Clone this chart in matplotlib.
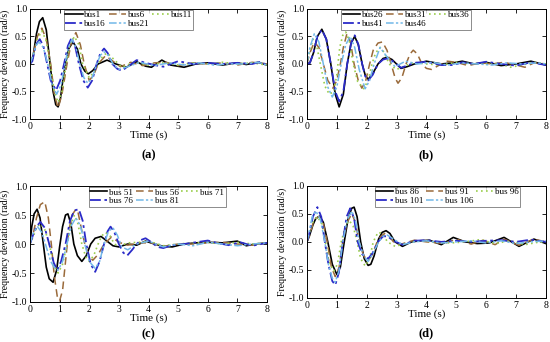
import numpy as np
import matplotlib.pyplot as plt

plt.rcParams['font.family'] = ['Liberation Serif', 'DejaVu Serif']
plt.rcParams['axes.unicode_minus'] = False

# ---------------- panel (a) ----------------
t_a1 = [0, 0.1, 0.22, 0.32, 0.43, 0.55, 0.68, 0.78, 0.87, 0.95, 1.03, 1.12, 1.2, 1.3, 1.45, 1.6, 1.72, 1.85, 1.97, 2.12,
        2.3, 2.6, 2.9, 3.25, 3.6, 3.9, 4.1, 4.45, 4.75, 5.2, 5.6, 6.0, 6.5, 7.0, 7.3, 7.7, 8.0]
bus1 = [0, 0.12, 0.55, 0.77, 0.84, 0.62, 0.0, -0.5, -0.74, -0.78, -0.62, -0.25, 0.0, 0.27, 0.4, 0.27, 0.0, -0.13, -0.18, -0.12,
        0.0, 0.07, 0.0, -0.06, 0.04, -0.04, -0.06, 0.07, -0.02, -0.06, 0.0, 0.02, -0.02, 0.02, -0.01, 0.03, -0.02]
t_a2 = [0, 0.1, 0.25, 0.4, 0.55, 0.7, 0.82, 0.95, 1.08, 1.25, 1.4, 1.55, 1.7, 1.83, 2.0, 2.15, 2.3, 2.55, 2.8, 3.05,
        3.4, 3.8, 4.2, 4.6, 5.0, 5.5, 6.0, 6.5, 7.0, 7.5, 8.0]
bus6 = [0, 0.15, 0.5, 0.65, 0.45, 0.0, -0.55, -0.8, -0.55, 0.0, 0.4, 0.57, 0.35, 0.0, -0.3, -0.2, 0.0, 0.15, 0.05, -0.05,
        0.03, -0.03, 0.02, 0.03, -0.03, 0.02, 0.0, 0.02, -0.02, 0.03, 0.0]
t_a3 = [0, 0.1, 0.25, 0.4, 0.55, 0.68, 0.82, 0.95, 1.08, 1.22, 1.35, 1.5, 1.65, 1.78, 2.0, 2.15, 2.3, 2.45, 2.6, 2.8,
        3.1, 3.5, 4.0, 4.5, 5.0, 5.5, 6.0, 6.5, 7.0, 7.5, 8.0]
bus11 = [0, 0.15, 0.45, 0.6, 0.42, 0.0, -0.5, -0.7, -0.5, 0.0, 0.35, 0.5, 0.35, 0.0, -0.25, -0.15, 0.0, 0.14, 0.2, 0.1,
         -0.06, 0.03, -0.02, 0.02, -0.02, 0.02, 0.0, 0.03, 0.0, 0.02, -0.02]
t_a4 = [0, 0.08, 0.2, 0.33, 0.45, 0.58, 0.7, 0.88, 1.02, 1.15, 1.28, 1.4, 1.52, 1.65, 1.8, 1.95, 2.1, 2.25, 2.38, 2.5,
        2.62, 2.78, 2.95, 3.1, 3.3, 3.6, 3.9, 4.2, 4.5, 5.0, 5.5, 6.0, 6.5, 7.0, 7.5, 7.8, 8.0]
bus16 = [0, 0.05, 0.35, 0.45, 0.33, 0.0, -0.3, -0.48, -0.3, 0.0, 0.33, 0.47, 0.33, 0.0, -0.3, -0.43, -0.3, 0.0, 0.2, 0.28,
         0.2, 0.0, -0.09, -0.12, -0.05, 0.07, 0.02, -0.02, -0.05, 0.05, 0.0, 0.02, 0.0, 0.02, 0.0, 0.04, -0.03]
t_a5 = [0, 0.1, 0.2, 0.3, 0.45, 0.6, 0.75, 0.9, 1.05, 1.18, 1.3, 1.42, 1.55, 1.68, 1.82, 1.95, 2.1, 2.25, 2.38, 2.5,
        2.65, 2.8, 3.0, 3.3, 3.7, 4.2, 4.7, 5.2, 5.7, 6.2, 6.7, 7.2, 7.7, 8.0]
bus21 = [0, 0.15, 0.33, 0.4, 0.3, 0.0, -0.38, -0.55, -0.38, 0.0, 0.3, 0.45, 0.3, 0.0, -0.25, -0.35, -0.25, 0.0, 0.16, 0.22,
         0.15, 0.0, -0.1, -0.05, 0.03, -0.03, 0.02, -0.02, 0.02, -0.02, 0.0, 0.0, 0.03, -0.02]

# ---------------- panel (b) ----------------
t_b1 = [0, 0.1, 0.22, 0.35, 0.5, 0.65, 0.8, 0.95, 1.08, 1.22, 1.35, 1.48, 1.6, 1.72, 1.85, 1.95, 2.05, 2.2, 2.38, 2.55,
        2.7, 2.85, 3.0, 3.15, 3.35, 3.6, 4.0, 4.5, 4.9, 5.2, 5.6, 6.0, 6.5, 7.0, 7.5, 8.0]
bus26 = [0, 0.02, 0.2, 0.5, 0.63, 0.45, 0.0, -0.55, -0.78, -0.55, 0.0, 0.38, 0.5, 0.35, 0.0, -0.2, -0.28, -0.18, 0.0, 0.1,
         0.12, 0.08, 0.0, -0.08, -0.05, 0.0, 0.05, 0.0, 0.02, 0.05, 0.0, 0.03, -0.03, 0.0, 0.05, -0.02]
bus41 = [0, 0.02, 0.2, 0.5, 0.62, 0.45, 0.0, -0.5, -0.68, -0.5, 0.0, 0.38, 0.52, 0.36, 0.0, -0.22, -0.3, -0.2, 0.0, 0.08,
         0.1, 0.06, 0.0, -0.07, -0.03, 0.02, 0.04, -0.02, -0.02, 0.03, 0.0, 0.04, 0.0, -0.03, 0.03, -0.02]
t_b2 = [0, 0.1, 0.25, 0.4, 0.55, 0.7, 0.87, 1.0, 1.12, 1.22, 1.34, 1.46, 1.58, 1.72, 1.84, 1.97, 2.1, 2.22, 2.38, 2.53,
        2.68, 2.82, 2.95, 3.05, 3.18, 3.32, 3.45, 3.56, 3.7, 3.85, 4.0, 4.17, 4.4, 4.7, 5.0, 5.4, 5.8, 6.2, 6.6, 7.0,
        7.3, 7.6, 8.0]
bus31 = [0, 0.2, 0.4, 0.3, 0.0, -0.3, -0.44, -0.3, 0.0, 0.3, 0.55, 0.4, 0.0, -0.3, -0.44, -0.3, 0.0, 0.25, 0.38, 0.4,
         0.25, 0.0, -0.25, -0.35, -0.25, 0.0, 0.18, 0.25, 0.18, 0.0, -0.08, -0.1, -0.03, 0.05, 0.03, -0.03, 0.02, 0.0,
         0.03, -0.02, -0.06, 0.02, 0.0]
t_b3 = [0, 0.08, 0.2, 0.32, 0.45, 0.6, 0.75, 0.9, 1.0, 1.1, 1.2, 1.3, 1.42, 1.55, 1.7, 1.9, 2.05, 2.18, 2.3, 2.45,
        2.6, 2.75, 3.0, 3.3, 3.6, 4.0, 4.5, 5.0, 5.5, 6.0, 6.5, 6.8, 7.2, 7.6, 8.0]
bus36 = [0, 0.2, 0.45, 0.35, 0.0, -0.4, -0.55, -0.5, -0.2, 0.3, 0.52, 0.58, 0.42, 0.0, -0.32, -0.45, -0.3, 0.0, 0.2, 0.3,
         0.2, 0.0, -0.1, -0.03, 0.03, 0.0, -0.02, 0.03, 0.0, 0.02, 0.0, -0.06, -0.02, 0.03, 0.0]
t_b5 = [0, 0.1, 0.25, 0.4, 0.55, 0.7, 0.85, 1.0, 1.15, 1.3, 1.45, 1.6, 1.75, 1.95, 2.1, 2.25, 2.45, 2.65, 2.95, 3.3,
        3.7, 4.2, 4.7, 5.2, 5.7, 6.2, 6.7, 7.2, 7.7, 8.0]
bus46 = [0, 0.3, 0.55, 0.4, 0.0, -0.42, -0.6, -0.42, 0.0, 0.35, 0.5, 0.3, -0.1, -0.45, -0.3, 0.0, 0.3, 0.15, -0.05, 0.05,
         0.0, 0.03, -0.02, 0.02, 0.0, -0.02, 0.02, 0.0, 0.02, 0.0]

# ---------------- panel (c) ----------------
t_c1 = [0, 0.06, 0.14, 0.24, 0.34, 0.45, 0.55, 0.65, 0.78, 0.9, 1.0, 1.1, 1.2, 1.28, 1.38, 1.48, 1.6, 1.75, 1.9, 2.05,
        2.2, 2.4, 2.6, 2.8, 3.0, 3.3, 3.6, 3.9, 4.2, 4.5, 4.8, 5.2, 5.6, 6.0, 6.5, 7.0, 7.3, 7.6, 8.0]
bus51 = [0, 0.3, 0.52, 0.6, 0.45, 0.0, -0.4, -0.6, -0.66, -0.45, -0.05, 0.3, 0.5, 0.52, 0.35, 0.0, -0.2, -0.3, -0.2, 0.0,
         0.1, 0.13, 0.05, -0.03, -0.05, 0.0, -0.02, 0.05, 0.0, -0.04, -0.05, 0.0, 0.02, 0.03, 0.02, 0.05, -0.03, 0.0, 0.02]
t_c2 = [0, 0.1, 0.22, 0.35, 0.5, 0.62, 0.72, 0.82, 0.92, 1.0, 1.1, 1.2, 1.3, 1.42, 1.55, 1.62, 1.72, 1.85, 2.0, 2.12,
        2.3, 2.5, 2.75, 3.0, 3.3, 3.7, 4.1, 4.5, 5.0, 5.5, 6.0, 6.5, 7.0, 7.5, 8.0]
bus56 = [0, 0.15, 0.45, 0.68, 0.73, 0.45, 0.0, -0.55, -0.9, -0.98, -0.8, -0.3, 0.2, 0.5, 0.6, 0.55, 0.3, 0.0, -0.22, -0.28,
         -0.18, 0.0, 0.12, 0.03, -0.02, 0.02, 0.02, -0.04, 0.0, 0.0, 0.02, 0.03, 0.0, -0.02, 0.02]
t_c3 = [0, 0.1, 0.22, 0.35, 0.5, 0.65, 0.8, 0.95, 1.1, 1.25, 1.38, 1.5, 1.62, 1.75, 1.88, 2.0, 2.15, 2.3, 2.42, 2.55,
        2.7, 2.85, 3.0, 3.3, 3.7, 4.0, 4.5, 5.0, 5.5, 6.0, 6.5, 7.0, 7.5, 8.0]
bus71 = [0, 0.12, 0.28, 0.35, 0.25, 0.0, -0.35, -0.5, -0.35, 0.0, 0.35, 0.5, 0.35, 0.0, -0.22, -0.3, -0.2, 0.0, 0.14, 0.2,
         0.14, 0.0, -0.04, 0.02, 0.03, 0.05, -0.03, 0.0, 0.02, 0.03, 0.0, 0.03, 0.0, 0.02]
t_c4 = [0, 0.1, 0.22, 0.35, 0.5, 0.65, 0.8, 0.92, 1.05, 1.2, 1.35, 1.5, 1.65, 1.78, 1.9, 2.05, 2.2, 2.35, 2.5, 2.62,
        2.72, 2.85, 3.0, 3.15, 3.28, 3.45, 3.6, 3.75, 3.9, 4.1, 4.3, 4.5, 4.8, 5.2, 5.6, 6.0, 6.3, 6.7, 7.1, 7.5, 8.0]
bus76 = [0, 0.15, 0.3, 0.38, 0.28, 0.0, -0.32, -0.45, -0.3, 0.0, 0.4, 0.58, 0.6, 0.4, 0.0, -0.35, -0.48, -0.3, 0.0, 0.22,
         0.3, 0.2, 0.0, -0.15, -0.2, -0.1, 0.0, 0.07, 0.1, 0.03, -0.05, -0.07, -0.02, 0.0, 0.03, 0.06, 0.02, -0.02, 0.03,
         -0.03, 0.02]
t_c5 = [0, 0.1, 0.25, 0.4, 0.55, 0.7, 0.85, 0.95, 1.1, 1.25, 1.4, 1.55, 1.7, 1.85, 2.0, 2.2, 2.35, 2.5, 2.65, 2.8,
        2.95, 3.1, 3.3, 3.6, 4.0, 4.5, 5.0, 5.5, 6.0, 6.5, 7.0, 7.5, 8.0]
bus81 = [0, 0.18, 0.3, 0.2, -0.05, -0.3, -0.43, -0.45, -0.3, 0.0, 0.32, 0.45, 0.32, 0.0, -0.3, -0.42, -0.3, 0.0, 0.22, 0.28,
         0.15, -0.05, -0.1, 0.0, 0.05, -0.05, 0.0, -0.03, 0.03, 0.0, -0.03, 0.0, 0.02]

# ---------------- panel (d) ----------------
t_d1 = [0, 0.08, 0.2, 0.3, 0.43, 0.55, 0.7, 0.85, 1.0, 1.12, 1.25, 1.38, 1.5, 1.58, 1.68, 1.8, 1.92, 2.05, 2.14, 2.25,
        2.4, 2.52, 2.65, 2.78, 2.95, 3.2, 3.5, 3.8, 4.1, 4.5, 4.9, 5.3, 5.7, 6.1, 6.6, 7.1, 7.6, 8.0]
bus86 = [0, 0.1, 0.3, 0.42, 0.46, 0.35, 0.0, -0.4, -0.58, -0.45, 0.0, 0.42, 0.6, 0.62, 0.45, 0.0, -0.3, -0.42, -0.4, -0.25,
         0.05, 0.17, 0.2, 0.15, 0.0, -0.08, 0.0, 0.02, 0.03, -0.05, 0.08, 0.0, -0.03, -0.02, 0.08, -0.08, 0.05, -0.03]
t_d2 = [0, 0.08, 0.2, 0.3, 0.4, 0.55, 0.68, 0.82, 0.95, 1.08, 1.2, 1.35, 1.5, 1.62, 1.75, 1.9, 2.05, 2.2, 2.35, 2.48,
        2.6, 2.75, 2.9, 3.1, 3.4, 3.6, 4.0, 4.6, 5.0, 5.5, 5.9, 6.3, 6.6, 7.1, 7.6, 8.0]
bus91 = [0, 0.1, 0.32, 0.42, 0.45, 0.33, 0.0, -0.45, -0.62, -0.45, 0.0, 0.35, 0.5, 0.36, 0.0, -0.25, -0.33, -0.22, 0.0, 0.1,
         0.15, 0.1, 0.0, -0.05, 0.0, 0.03, 0.0, -0.03, 0.05, -0.04, 0.03, -0.05, 0.05, -0.06, 0.05, 0.0]
t_d3 = [0, 0.08, 0.2, 0.35, 0.5, 0.62, 0.75, 0.9, 1.02, 1.15, 1.3, 1.42, 1.55, 1.68, 1.8, 1.95, 2.1, 2.22, 2.38, 2.52,
        2.7, 2.95, 3.3, 3.8, 4.3, 4.8, 5.3, 5.8, 6.3, 6.8, 7.3, 7.8, 8.0]
bus96 = [0, 0.15, 0.35, 0.45, 0.32, 0.0, -0.38, -0.52, -0.4, 0.0, 0.3, 0.38, 0.28, 0.0, -0.3, -0.43, -0.3, 0.0, 0.17, 0.15,
         0.0, -0.08, -0.03, 0.02, 0.0, -0.02, 0.0, 0.04, -0.03, 0.02, -0.05, 0.0, -0.02]
t_d4 = [0, 0.08, 0.2, 0.35, 0.48, 0.6, 0.72, 0.85, 0.95, 1.07, 1.2, 1.33, 1.45, 1.58, 1.7, 1.85, 2.05, 2.2, 2.38, 2.55,
        2.7, 2.9, 3.2, 3.6, 4.0, 4.5, 5.0, 5.5, 6.0, 6.5, 7.0, 7.5, 8.0]
bus101 = [0, 0.15, 0.45, 0.62, 0.45, 0.0, -0.4, -0.7, -0.77, -0.55, 0.0, 0.45, 0.6, 0.42, 0.0, -0.22, -0.3, -0.2, 0.0, 0.1,
          0.1, 0.02, -0.05, 0.02, 0.03, 0.0, 0.02, 0.0, 0.02, 0.03, 0.0, 0.04, 0.0]
t_d5 = [0, 0.08, 0.18, 0.3, 0.45, 0.6, 0.72, 0.85, 0.95, 1.08, 1.2, 1.35, 1.5, 1.62, 1.75, 1.9, 2.05, 2.2, 2.4, 2.55,
        2.7, 2.9, 3.2, 3.6, 4.0, 4.5, 5.0, 5.5, 6.0, 6.5, 7.0, 7.5, 8.0]
bus106 = [0, 0.2, 0.45, 0.55, 0.4, 0.0, -0.4, -0.65, -0.72, -0.5, 0.0, 0.4, 0.55, 0.4, 0.0, -0.25, -0.35, -0.22, 0.0, 0.1,
          0.12, 0.05, -0.05, 0.0, 0.02, -0.02, 0.0, 0.02, -0.02, 0.02, -0.03, 0.0, 0.02]

# line styles shared by the five curves of each panel
STYLES = [
    dict(color='black', lw=1.2, ls='-'),
    dict(color='#9a6a3a', lw=1.1, ls=(0, (5, 3))),
    dict(color='#9acd4c', lw=1.2, ls=(0, (1, 2))),
    dict(color='#2b2bc8', lw=1.3, ls=(0, (6, 2, 1.5, 2))),
    dict(color='#72b8e8', lw=1.1, ls=(0, (5, 1.5, 1.5, 1.5, 1.5, 1.5))),
]


def panel(ax, series, labels, leg_x, tag, tag_y):
    lines = []
    for (t, v), lab, st in zip(series, labels, STYLES):
        ln, = ax.plot(t, v, label=lab, **st)
        lines.append(ln)
    ax.set_xlim(0, 8)
    ax.set_ylim(-1.0, 1.0)
    ax.set_xticks(range(0, 9))
    ax.set_yticks([-1.0, -0.5, 0.0, 0.5, 1.0])
    ax.set_yticklabels(['-1.0', '-0.5', '0.0', '0.5', '1.0'])
    ax.tick_params(direction='in', top=True, right=True, labelsize=7, length=3, width=0.6, pad=2)
    for s in ax.spines.values():
        s.set_linewidth(0.7)
    ax.set_xlabel('Time (s)', fontsize=8, labelpad=0)
    ax.set_ylabel('Frequency deviation (rad/s)', fontsize=7, labelpad=1)
    # order so that the legend reads row by row
    order = [0, 3, 1, 4, 2]
    leg = ax.legend([lines[i] for i in order], [labels[i] for i in order], ncol=3,
                    loc='upper left', bbox_to_anchor=(leg_x, 1.0), borderaxespad=0.1,
                    fontsize=6.5, handlelength=1.9, handletextpad=0.2, columnspacing=0.3,
                    labelspacing=0.05, borderpad=0.15, fancybox=False, frameon=True)
    leg.get_frame().set_edgecolor('0.35')
    leg.get_frame().set_linewidth(0.6)
    ax.text(0.5, tag_y, tag, transform=ax.transAxes, ha='center', va='center',
            fontsize=9, fontweight='bold')


fig = plt.figure(figsize=(5.5, 3.42), dpi=100)
ax_a = fig.add_axes([0.0545, 0.652, 0.431, 0.322])
ax_b = fig.add_axes([0.558, 0.652, 0.4345, 0.322])
ax_c = fig.add_axes([0.0545, 0.117, 0.431, 0.339])
ax_d = fig.add_axes([0.558, 0.129, 0.4345, 0.3275])

panel(ax_a, [(t_a1, bus1), (t_a2, bus6), (t_a3, bus11), (t_a4, bus16), (t_a5, bus21)],
      ['bus1', 'bus6', 'bus11', 'bus16', 'bus21'], 0.14, '(a)', -0.33)
panel(ax_b, [(t_b1, bus26), (t_b2, bus31), (t_b3, bus36), (t_b1, bus41), (t_b5, bus46)],
      ['bus26', 'bus31', 'bus36', 'bus41', 'bus46'], 0.14, '(b)', -0.33)
panel(ax_c, [(t_c1, bus51), (t_c2, bus56), (t_c3, bus71), (t_c4, bus76), (t_c5, bus81)],
      ['bus 51', 'bus 56', 'bus 71', 'bus 76', 'bus 81'], 0.245, '(c)', -0.28)
panel(ax_d, [(t_d1, bus86), (t_d2, bus91), (t_d3, bus96), (t_d4, bus101), (t_d5, bus106)],
      ['bus 86', 'bus 91', 'bus 96', 'bus 101', 'bus 106'], 0.28, '(d)', -0.32)

fig.savefig('out.png', dpi=100)
